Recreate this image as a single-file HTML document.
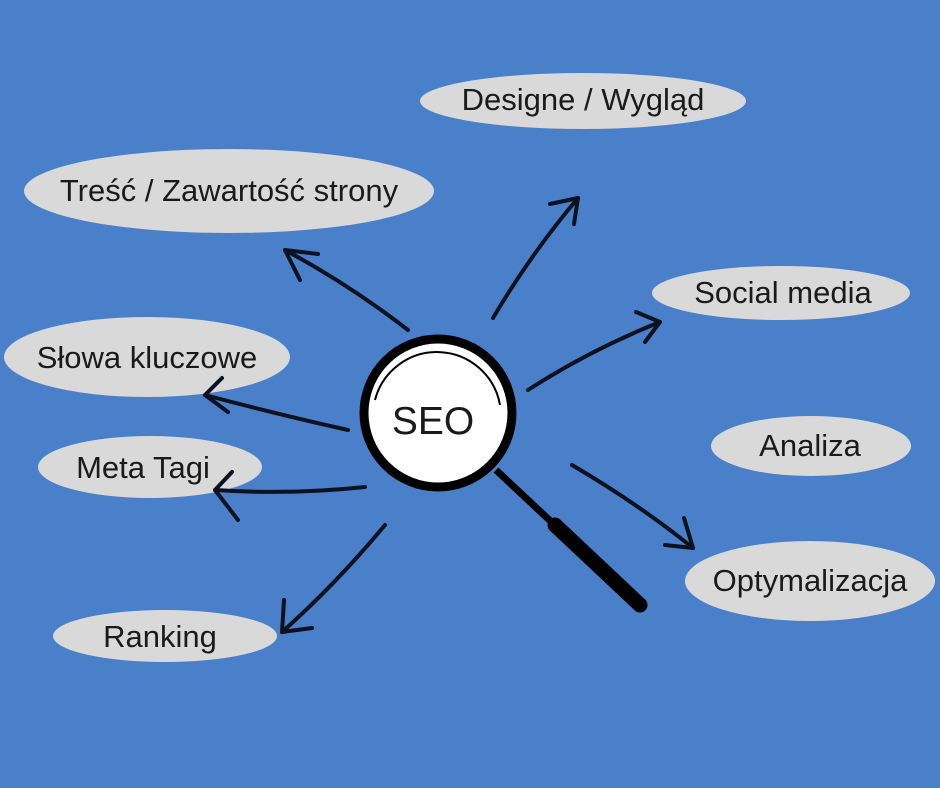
<!DOCTYPE html>
<html><head><meta charset="utf-8"><style>
html,body{margin:0;padding:0}
body{width:940px;height:788px;background:#4a80c9;overflow:hidden}
svg{display:block}
text{font-family:"Liberation Sans","DejaVu Sans",sans-serif;fill:#1a1a1a;font-size:31px}
</style></head><body>
<svg width="940" height="788" viewBox="0 0 940 788">
<g fill="#d9d9d9">
<ellipse cx="583" cy="101" rx="163" ry="28"/>
<ellipse cx="229" cy="191" rx="205" ry="42"/>
<ellipse cx="781" cy="293" rx="129" ry="27"/>
<ellipse cx="147" cy="357" rx="143" ry="40"/>
<ellipse cx="811" cy="446" rx="100" ry="30"/>
<ellipse cx="150" cy="467" rx="112" ry="31"/>
<ellipse cx="810" cy="581" rx="125" ry="40"/>
<ellipse cx="165" cy="636" rx="112" ry="26"/>
</g>
<g text-anchor="middle">
<text x="583" y="110">Designe / Wygląd</text>
<text x="229" y="201">Treść / Zawartość strony</text>
<text x="783" y="303">Social media</text>
<text x="147" y="368">Słowa kluczowe</text>
<text x="810" y="456">Analiza</text>
<text x="143" y="478">Meta Tagi</text>
<text x="810" y="591">Optymalizacja</text>
<text x="160" y="647">Ranking</text>
</g>
<g fill="none" stroke="#0d1220" stroke-width="4" stroke-linecap="round" stroke-linejoin="round">
<path d="M408 330 Q350 285 285 250"/><path d="M300 280 L285 250 L318 254"/>
<path d="M493 318 Q530 255 578 198"/><path d="M550 204 L578 198 L574 224"/>
<path d="M528 390 Q590 350 660 322"/><path d="M636 312 L660 322 L645 342"/>
<path d="M348 430 Q280 415 205 395"/><path d="M222 378 L205 395 L228 412"/>
<path d="M365 487 Q290 495 215 490"/><path d="M232 472 L215 490 L238 520"/>
<path d="M385 525 Q335 585 282 632"/><path d="M284 600 L282 632 L312 628"/>
<path d="M572 465 Q640 505 693 548"/><path d="M684 518 L693 548 L665 545"/>
</g>
<circle cx="438" cy="413" r="74" fill="#fff" stroke="#000" stroke-width="9"/>
<path d="M375 400 A64 64 0 0 1 500 405" fill="none" stroke="#000" stroke-width="2"/>
<line x1="496" y1="470" x2="560" y2="530" stroke="#000" stroke-width="7"/>
<line x1="555" y1="525" x2="640" y2="605" stroke="#000" stroke-width="15" stroke-linecap="round"/>
<text x="433" y="434" text-anchor="middle" style="font-size:39px">SEO</text>
</svg>
</body></html>
